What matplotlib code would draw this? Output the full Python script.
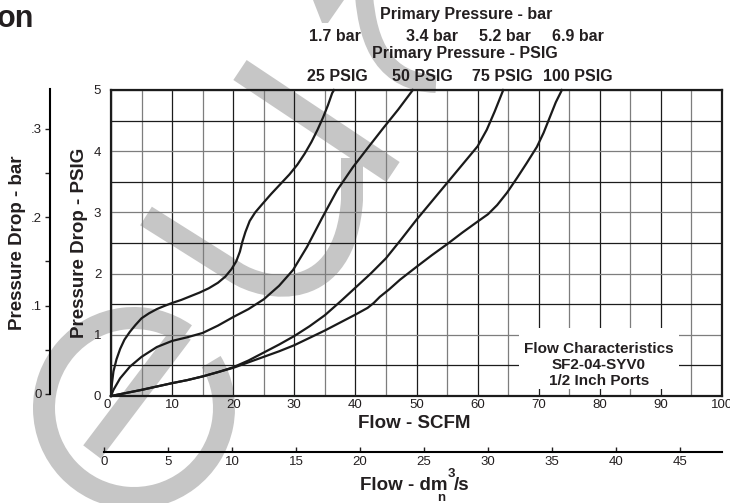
import matplotlib

matplotlib.use("Agg")
from matplotlib import pyplot as plt
from matplotlib.patches import PathPatch, Rectangle, Wedge
from matplotlib.path import Path
from matplotlib.ticker import FixedLocator, MultipleLocator

plt.rcParams["font.family"] = ["Liberation Sans", "DejaVu Sans"]

# curves: flow in SCFM, pressure drop in PSIG
flow_25 = [0, 0.15, 0.4, 0.9, 1.5, 2.2, 3.1, 4, 5, 6.2, 7.5, 8.7, 10, 11.5, 13, 14.5,
           16, 17.5, 18.7, 19.7, 20.5, 21.1, 21.5, 22, 22.7, 23.6, 24.8, 26.2, 27.7,
           29.2, 30.5, 31.7, 32.8, 33.8, 34.7, 35.5, 36.2, 36.5]
drop_25 = [0, 0.2, 0.4, 0.6, 0.77, 0.92, 1.05, 1.16, 1.27, 1.35, 1.42, 1.47, 1.52, 1.57,
           1.63, 1.69, 1.76, 1.85, 1.95, 2.07, 2.2, 2.36, 2.52, 2.68, 2.86, 3.0, 3.14,
           3.3, 3.46, 3.62, 3.78, 3.96, 4.15, 4.35, 4.55, 4.75, 4.95, 5.0]

flow_50 = [0, 0.4, 1.5, 3.1, 5, 7.5, 10, 12.5, 15, 17.5, 20, 22.5, 25, 27.5, 29.8, 32.1,
           34.5, 37, 39.6, 42, 44.5, 47, 49.4]
drop_50 = [0, 0.1, 0.29, 0.48, 0.64, 0.8, 0.9, 0.96, 1.03, 1.15, 1.29, 1.42, 1.58, 1.8,
           2.06, 2.44, 2.9, 3.36, 3.74, 4.05, 4.37, 4.68, 5.0]

flow_75 = [0, 2.5, 5, 7.5, 10, 12.5, 15, 17.5, 20, 22.5, 25, 27.5, 30, 32.5, 35, 37.5,
           40, 42.5, 45, 47.5, 50, 52.5, 55, 57.5, 60, 61.5, 62.8, 64.2]
drop_75 = [0, 0.05, 0.1, 0.155, 0.21, 0.26, 0.32, 0.39, 0.47, 0.58, 0.71, 0.84, 0.98,
           1.14, 1.32, 1.54, 1.77, 2.0, 2.25, 2.56, 2.88, 3.18, 3.48, 3.78, 4.08, 4.35,
           4.65, 5.0]

flow_100 = [0, 2.5, 5, 7.5, 10, 12.5, 15, 17.5, 20, 22.5, 25, 27.5, 30, 32.5, 35, 37.5,
            40, 42, 43, 44, 45.5, 47.3, 50, 52.5, 55, 57.5, 60, 61.7, 63.2, 64.8, 66.5,
            68, 69.7, 70.8, 71.8, 72.8, 73.8]
drop_100 = [0, 0.05, 0.1, 0.155, 0.21, 0.26, 0.32, 0.39, 0.46, 0.55, 0.64, 0.73, 0.83,
            0.95, 1.07, 1.2, 1.33, 1.44, 1.52, 1.62, 1.74, 1.9, 2.11, 2.3, 2.48, 2.67,
            2.85, 2.97, 3.12, 3.32, 3.57, 3.8, 4.07, 4.3, 4.55, 4.8, 5.0]

scfm_ticks = list(range(0, 101, 10))
psig_ticks = [0, 1, 2, 3, 4, 5]
bar_ticks = [0, 0.1, 0.2, 0.3]
bar_labels = ["0", ".1", ".2", ".3"]
bar_minor = [0.05, 0.15, 0.25]
dm3_ticks = list(range(0, 46, 5))

bar_labels_top = ["1.7 bar", "3.4 bar", "5.2 bar", "6.9 bar"]
psig_labels_top = ["25 PSIG", "50 PSIG", "75 PSIG", "100 PSIG"]

INK = "#231f20"
WATERMARK = "#c6c6c6"
W, H = 730, 503


def fx(x):
    return x / W


def fy(y):
    return 1 - y / H


def label(x, y, text, size, **kw):
    kw.setdefault("ha", "center")
    kw.setdefault("va", "baseline")
    return fig.text(fx(x), fy(y), text, fontsize=size, weight="bold", color=INK, **kw)


fig = plt.figure(figsize=(W / 100, H / 100), dpi=100)
fig.patch.set_facecolor("white")

# watermark, drawn in pixel coordinates behind everything
bg = fig.add_axes([0, 0, 1, 1], zorder=0)
bg.set_xlim(0, W)
bg.set_ylim(H, 0)
bg.axis("off")
bg.add_patch(Wedge((134, 408), 101, -31, 305, width=22, color=WATERMARK, lw=0))
bg.plot([182, 92], [333, 452], color=WATERMARK, lw=22 * 0.72, solid_capstyle="butt")
bg.plot([240, 393], [70, 172], color=WATERMARK, lw=24 * 0.72, solid_capstyle="butt")
hook = Path(
    [(146, 216), (235, 272), (265, 292), (345, 305), (352, 200), (352, 158)],
    [Path.MOVETO, Path.LINETO, Path.CURVE4, Path.CURVE4, Path.CURVE4, Path.LINETO],
)
bg.add_patch(PathPatch(hook, fill=False, ec=WATERMARK, lw=22 * 0.72, capstyle="butt"))
arc = Path(
    [(364, -5), (368, 45), (385, 82), (436, 84)],
    [Path.MOVETO, Path.CURVE4, Path.CURVE4, Path.CURVE4],
)
bg.add_patch(PathPatch(arc, fill=False, ec=WATERMARK, lw=18 * 0.72, capstyle="butt"))
bg.fill([313, 344, 328, 322], [0, 0, 23, 23], color=WATERMARK, lw=0)

# main chart
ax = fig.add_axes([fx(111), fy(396), (722 - 111) / W, (396 - 90) / H], zorder=2)
ax.patch.set_visible(False)
ax.set_xlim(0, 100)
ax.set_ylim(0, 5)
ax.xaxis.set_major_locator(FixedLocator(scfm_ticks))
ax.xaxis.set_minor_locator(MultipleLocator(5))
ax.yaxis.set_major_locator(FixedLocator(psig_ticks))
ax.yaxis.set_minor_locator(MultipleLocator(0.5))
ax.grid(True, which="major", axis="x", color="#1c1c1c", lw=0.9)
ax.grid(True, which="minor", axis="x", color="#7d7d7d", lw=0.9)
ax.grid(True, which="major", axis="y", color="#7d7d7d", lw=0.9)
ax.grid(True, which="minor", axis="y", color="#1c1c1c", lw=0.9)
ax.tick_params(which="both", length=0, colors=INK, labelsize=9.5)
ax.tick_params(axis="x", pad=2.5)
ax.tick_params(axis="y", pad=7)
ax.get_xticklabels()[0].set_ha("right")
for spine in ax.spines.values():
    spine.set_linewidth(1.6)
    spine.set_color("#1c1c1c")

for flow, drop in [(flow_25, drop_25), (flow_50, drop_50),
                   (flow_75, drop_75), (flow_100, drop_100)]:
    ax.plot(flow, drop, color="#1a1a1a", lw=1.6, solid_joinstyle="round", zorder=3,
            clip_on=False)

ax.add_patch(Rectangle((0.668, 0.023), 0.262, 0.199, transform=ax.transAxes,
                       facecolor="white", edgecolor="none", zorder=2.5))
for text, y in [("Flow Characteristics", 353), ("SF2-04-SYV0", 369),
                ("1/2 Inch Ports", 385)]:
    label(599, y, text, 11, zorder=5)

# secondary pressure axis in bar
lx = fig.add_axes([fx(50), fy(394), 0.0001, (394 - 89) / H], zorder=2)
lx.patch.set_visible(False)
for side in ["top", "right", "bottom"]:
    lx.spines[side].set_visible(False)
lx.spines["left"].set_linewidth(1.5)
lx.set_ylim(0, 5 / 14.5)
lx.set_xticks([])
lx.yaxis.set_major_locator(FixedLocator(bar_ticks))
lx.set_yticklabels(bar_labels)
lx.yaxis.set_minor_locator(FixedLocator(bar_minor))
lx.tick_params(axis="y", which="both", direction="out", length=3.6, width=1,
               pad=2, labelsize=9.5, colors=INK)

# secondary flow axis in dm3/s
bx = fig.add_axes([fx(104), fy(452), (722 - 104) / W, 0.0001], zorder=2)
bx.patch.set_visible(False)
for side in ["top", "right", "left"]:
    bx.spines[side].set_visible(False)
bx.spines["bottom"].set_linewidth(1.5)
bx.set_xlim(0, (722 - 104) / 12.8)
bx.set_yticks([])
bx.xaxis.set_major_locator(FixedLocator(dm3_ticks))
bx.tick_params(axis="x", direction="in", length=3.6, width=1, pad=3,
               labelsize=9.5, colors=INK)

# axis titles
label(18, 243, "Pressure Drop - bar", 13.5, rotation=90, va="center")
label(80, 243, "Pressure Drop - PSIG", 13.5, rotation=90, va="center")
label(414, 428, "Flow - SCFM", 13.5)
label(447, 490, "Flow - dm", 13.5, ha="right")
label(454, 490, "/s", 13.5, ha="left")
label(451, 477, "3", 9.5)
label(441, 501, "n", 9.5)
label(-3, 27, "on", 22, ha="left")

# pressure headings over the curves
label(466, 19, "Primary Pressure - bar", 11.5)
for text, x in zip(bar_labels_top, [335, 432, 505, 578]):
    label(x, 41, text, 11.5)
label(465, 58, "Primary Pressure - PSIG", 11.5)
for text, x in zip(psig_labels_top, [337, 422, 502, 578]):
    label(x, 81, text, 11.5)

fig.savefig("out.png", dpi=100, facecolor="white")
plt.close(fig)
